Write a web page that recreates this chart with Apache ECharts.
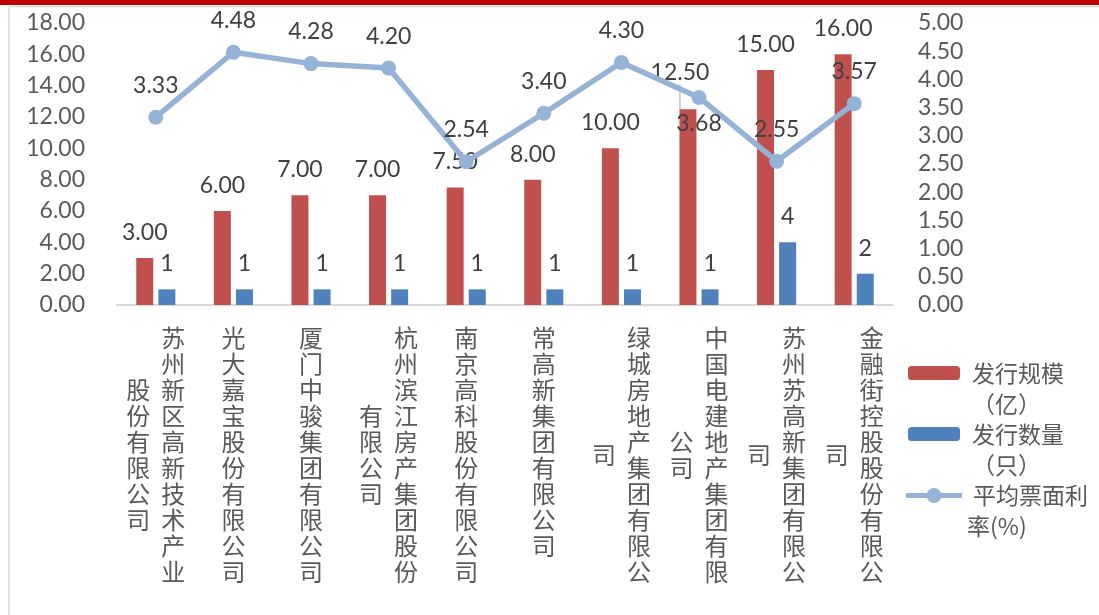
<!DOCTYPE html>
<html><head><meta charset="utf-8">
<script src="https://cdn.jsdelivr.net/npm/echarts@6/dist/echarts.min.js"></script>
<style>html,body{margin:0;padding:0;background:#fff}#c{width:1099px;height:615px}</style>
</head><body><div id="c"></div>
<script>
const categories = ['苏州新区高新技术产业股份有限公司','光大嘉宝股份有限公司','厦门中骏集团有限公司','杭州滨江房产集团股份有限公司','南京高科股份有限公司','常高新集团有限公司','绿城房地产集团有限公司','中国电建地产集团有限公司','苏州苏高新集团有限公司','金融街控股股份有限公司'];
const issueScale = [3.00, 6.00, 7.00, 7.00, 7.50, 8.00, 10.00, 12.50, 15.00, 16.00];
const issueCount = [1, 1, 1, 1, 1, 1, 1, 1, 4, 2];
const avgRate = [3.33, 4.48, 4.28, 4.20, 2.54, 3.40, 4.30, 3.68, 2.55, 3.57];
const seriesNames = ['发行规模（亿）', '发行数量（只）', '平均票面利率(%)'];
const legendLines = [['发行规模', '（亿）'], ['发行数量', '（只）'], ['平均票面利', '率(%)']];

const NUM_FONT = 'Lato, "Noto Sans", "Noto Sans CJK SC", sans-serif';
const CJK_FONT = '"Noto Sans CJK SC", sans-serif';
const COL = 10;

function colA(name) { return name.slice(0, COL); }
function colB(name) { return name.slice(COL); }

const catStyle = { fontSize: 24, lineHeight: 26, fontFamily: CJK_FONT, color: '#595959' };
const legTxt = { fontSize: 23, lineHeight: 31, fontFamily: CJK_FONT, color: '#595959' };

const chart = echarts.init(document.getElementById('c'), null, { renderer: 'canvas' });

const legendCfg = [
  { left: 908, top: 326.5, w: 52, h: 14, pad1: 7, pad2: 7 },
  { left: 908, top: 387.5, w: 52, h: 14, pad1: 7, pad2: 7 },
  { left: 906, top: 449, w: 56, h: 15, pad1: 6, pad2: 0 }
];
const lineIcon = 'path://M0,5L56,5L56,10L0,10Z M20.5,7.5A7.5,7.5 0 1 1 35.5,7.5A7.5,7.5 0 1 1 20.5,7.5Z';

const legends = seriesNames.map((n, i) => {
  const c = legendCfg[i];
  const item = { name: n };
  if (i === 2) { item.icon = lineIcon; item.itemStyle = { borderWidth: 0, color: '#95B3D7' }; }
  return {
    data: [item],
    orient: 'vertical',
    left: c.left, top: c.top,
    padding: 0,
    itemWidth: c.w, itemHeight: c.h,
    formatter: () => '{s| }\n{a|' + legendLines[i][0] + '}\n{b|' + legendLines[i][1] + '}',
    textStyle: Object.assign({
      rich: {
        s: Object.assign({}, legTxt),
        a: Object.assign({ padding: [0, 0, 0, c.pad1] }, legTxt),
        b: Object.assign({ padding: [0, 0, 0, c.pad2] }, legTxt)
      }
    }, legTxt)
  };
});

const option = {
  animation: false,
  backgroundColor: '#fff',
  graphic: [
    { type: 'rect', left: 0, top: 0, shape: { width: 1099, height: 5 }, style: { fill: '#C00000' }, silent: true },
    { type: 'line', shape: { x1: 9, y1: 6.5, x2: 1099, y2: 6.5 }, style: { stroke: '#D9D9D9', lineWidth: 1.5 }, silent: true },
    { type: 'line', shape: { x1: 9, y1: 6.5, x2: 9, y2: 615 }, style: { stroke: '#D9D9D9', lineWidth: 1.5 }, silent: true }
  ],
  legend: legends,
  grid: { left: 117, right: 206, top: 23, bottom: 310, containLabel: false, outerBoundsMode: 'none' },
  xAxis: [
    {
      type: 'category', data: categories, position: 'bottom',
      axisLine: { show: true, lineStyle: { color: '#D9D9D9', width: 2 } },
      axisTick: { show: false },
      axisLabel: {
        interval: 0, margin: 20, verticalAlign: 'top', align: 'center',
        fontSize: 24, lineHeight: 26, fontFamily: CJK_FONT, color: '#595959',
        formatter: (v) => {
          const a = colA(v).split('').join('\n');
          return colB(v).length ? '{r|' + a + '}' : '{c|' + a + '}';
        },
        rich: {
          c: Object.assign({}, catStyle),
          r: Object.assign({ padding: [0, 0, 0, 35] }, catStyle)
        }
      }
    },
    {
      type: 'category', data: categories, position: 'bottom',
      axisLine: { show: false }, axisTick: { show: false }, splitLine: { show: false },
      axisLabel: {
        interval: 0, margin: 150, verticalAlign: 'middle', align: 'center',
        fontSize: 24, lineHeight: 26, fontFamily: CJK_FONT, color: '#595959',
        formatter: (v) => {
          const b = colB(v);
          return b.length ? '{l|' + b.split('').join('\n') + '}' : '';
        },
        rich: { l: Object.assign({ padding: [0, 35, 0, 0] }, catStyle) }
      }
    }
  ],
  yAxis: [
    {
      type: 'value', min: 0, max: 18, interval: 2,
      axisLine: { show: false }, axisTick: { show: false }, splitLine: { show: false },
      axisLabel: { margin: 32, fontSize: 23, fontFamily: NUM_FONT, color: '#595959', formatter: (v) => v.toFixed(2) }
    },
    {
      type: 'value', min: 0, max: 5, interval: 0.5, position: 'right',
      axisLine: { show: false }, axisTick: { show: false }, splitLine: { show: false },
      axisLabel: { margin: 25, fontSize: 23, fontFamily: NUM_FONT, color: '#595959', formatter: (v) => v.toFixed(2) }
    }
  ],
  series: [
    {
      name: seriesNames[0], type: 'bar', xAxisIndex: 0, yAxisIndex: 0,
      barWidth: 17, barGap: '30%',
      itemStyle: { color: '#C0504D' },
      data: issueScale.map((v, i) => i === 7 ? { value: v, labelLine: { show: true, lineStyle: { color: '#A6A6A6', width: 1 } } } : v),
      label: { show: true, position: 'top', distance: 14, fontSize: 23, fontFamily: NUM_FONT, color: '#404040', formatter: (p) => p.value.toFixed(2) },
      labelLayout: (p) => p.dataIndex === 7 ? { dx: -8, dy: -11 } : {}
    },
    {
      name: seriesNames[1], type: 'bar', xAxisIndex: 0, yAxisIndex: 0,
      barWidth: 17,
      itemStyle: { color: '#4F81BD' },
      data: issueCount,
      label: { show: true, position: 'top', distance: 14, fontSize: 23, fontFamily: NUM_FONT, color: '#404040', formatter: (p) => String(p.value) }
    },
    {
      name: seriesNames[2], type: 'line', xAxisIndex: 0, yAxisIndex: 1,
      symbol: 'circle', symbolSize: 15,
      lineStyle: { color: '#95B3D7', width: 5.5 },
      itemStyle: { color: '#95B3D7' },
      data: avgRate.map((v, i) => i === 7 ? { value: v, label: { position: 'bottom', distance: 7 } } : v),
      label: { show: true, position: 'top', distance: 13, fontSize: 23, fontFamily: NUM_FONT, color: '#404040', formatter: (p) => Number(p.value).toFixed(2) },
      z: 5
    }
  ]
};
chart.setOption(option);
</script></body></html>
